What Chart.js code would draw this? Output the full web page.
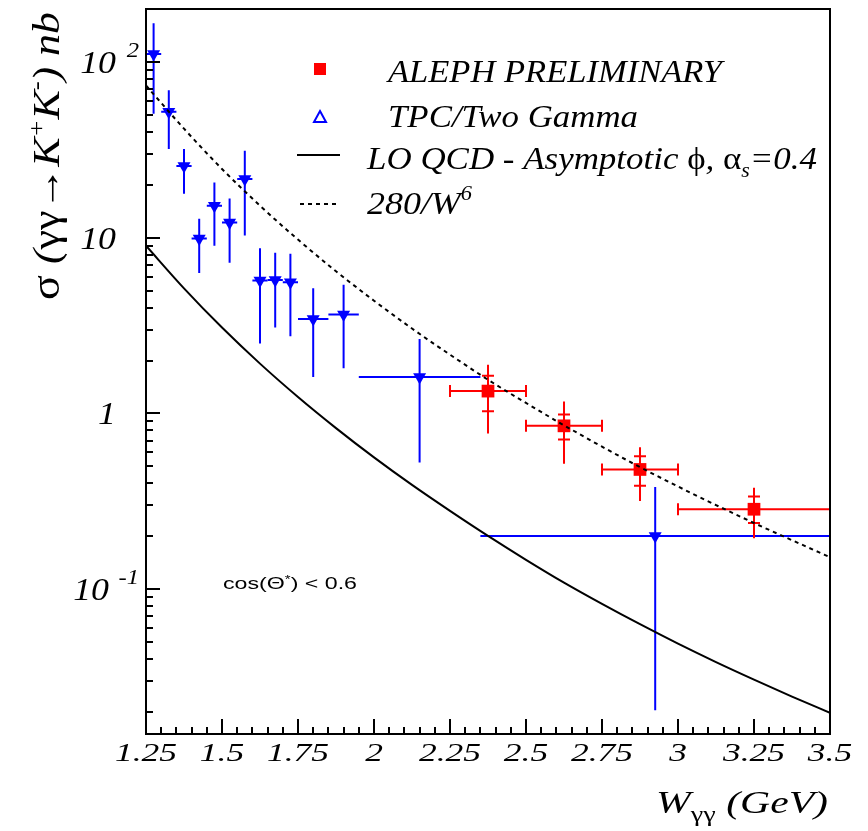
<!DOCTYPE html>
<html>
<head>
<meta charset="utf-8">
<script src="https://cdn.jsdelivr.net/npm/chart.js@4.4.0/dist/chart.umd.min.js"></script>
<style>
  html, body { margin: 0; padding: 0; background: #fff; }
  #wrap { width: 868px; height: 831px; position: relative; }
</style>
</head>
<body>
<div id="wrap"><canvas id="chart"></canvas></div>
<script>
// ALEPH preliminary points (W in GeV, sigma in nb)
const alephW = [2.375, 2.625, 2.875, 3.25];
const alephSigma = [1.34, 0.85, 0.48, 0.285];
const alephWLo = [2.25, 2.5, 2.75, 3.0];
const alephWHi = [2.5, 2.75, 3.0, 3.5];
const alephStatLo = [1.03, 0.71, 0.388, 0.238];
const alephStatHi = [1.64, 0.987, 0.571, 0.337];
const alephTotLo = [0.77, 0.518, 0.318, 0.195];
const alephTotHi = [1.89, 1.17, 0.643, 0.378];

// TPC/Two Gamma points
const tpcW = [1.275, 1.325, 1.375, 1.425, 1.475, 1.525, 1.575, 1.625, 1.675, 1.725, 1.80, 1.90, 2.15, 2.925];
const tpcSigma = [111, 52, 25.6, 9.9, 15.2, 12.2, 21.6, 5.7, 5.75, 5.57, 3.45, 3.65, 1.61, 0.201];
const tpcErrLo = [50.7, 32, 17.8, 6.3, 9.0, 7.2, 10.3, 2.5, 3.08, 2.75, 1.61, 1.81, 0.525, 0.0205];
const tpcErrHi = [166, 69, 32, 12.8, 20.6, 16.7, 31.2, 8.7, 8.2, 8.1, 5.15, 5.39, 2.65, 0.382];
const tpcWLo = [1.25, 1.30, 1.35, 1.40, 1.45, 1.50, 1.55, 1.60, 1.65, 1.70, 1.75, 1.85, 1.95, 2.35];
const tpcWHi = [1.30, 1.35, 1.40, 1.45, 1.50, 1.55, 1.60, 1.65, 1.70, 1.75, 1.85, 1.95, 2.35, 3.50];

// LO QCD - asymptotic phi curve
const qcdW = [1.25, 1.375, 1.5, 1.625, 1.75, 1.875, 2.0, 2.125, 2.25, 2.375, 2.5, 2.625, 2.75, 2.875, 3.0, 3.125, 3.25, 3.375, 3.5];
const qcdSigma = [9.0, 5.15, 3.08, 1.92, 1.24, 0.825, 0.562, 0.392, 0.279, 0.201, 0.147, 0.109, 0.0825, 0.0632, 0.049, 0.0385, 0.0306, 0.0245, 0.0198];

// 280/W^6 curve
const curveW = [1.25, 1.375, 1.5, 1.625, 1.75, 1.875, 2.0, 2.125, 2.25, 2.375, 2.5, 2.625, 2.75, 2.875, 3.0, 3.125, 3.25, 3.375, 3.5];
const curveSigma = [73.4, 41.7, 24.6, 15.2, 9.75, 6.44, 4.38, 3.04, 2.16, 1.555, 1.147, 0.856, 0.647, 0.495, 0.384, 0.301, 0.238, 0.19, 0.152];

// axis ticks
const xTicks = [1.25, 1.5, 1.75, 2, 2.25, 2.5, 2.75, 3, 3.25, 3.5];
const xTickLabels = ['1.25', '1.5', '1.75', '2', '2.25', '2.5', '2.75', '3', '3.25', '3.5'];
const yTicks = [100, 10, 1, 0.1];
const yTickBase = ['10', '10', '1', '10'];
const yTickExp = ['2', '', '', '-1'];

const SERIF = '"Liberation Serif", "DejaVu Serif", serif';
const SANS = '"Liberation Sans", Arial, sans-serif';

// draw a line of text made of parts; opt.width stretches it to a given width
function richText(ctx, parts, x, y, opt) {
  opt = opt || {};
  const fonts = parts.map(p => (p.style || 'italic') + ' ' + p.size + 'px ' + (p.family || SERIF));
  const widths = parts.map((p, i) => { ctx.font = fonts[i]; return ctx.measureText(p.t).width; });
  const total = widths.reduce((a, b) => a + b, 0);
  const sx = opt.width ? opt.width / total : (opt.sx || 1);
  let cx = x;
  if (opt.align === 'right') cx = x - total * sx;
  else if (opt.align === 'center') cx = x - total * sx / 2;
  ctx.fillStyle = opt.color || '#000';
  ctx.textBaseline = 'alphabetic';
  ctx.textAlign = 'left';
  parts.forEach((p, i) => {
    ctx.save();
    ctx.font = fonts[i];
    ctx.translate(cx, y + (p.dy || 0));
    ctx.scale(sx, 1);
    ctx.fillText(p.t, 0, 0);
    ctx.restore();
    cx += widths[i] * sx;
  });
}

const decor = {
  id: 'decor',
  beforeDatasetsDraw(chart) {
    const ctx = chart.ctx;
    const xs = chart.scales.x, ys = chart.scales.y;
    ctx.save();
    ctx.lineWidth = 2;
    // TPC error bars
    ctx.strokeStyle = '#0000ff';
    tpcW.forEach((w, i) => {
      const px = xs.getPixelForValue(w), py = ys.getPixelForValue(tpcSigma[i]);
      ctx.beginPath();
      ctx.moveTo(px, ys.getPixelForValue(tpcErrLo[i]));
      ctx.lineTo(px, ys.getPixelForValue(tpcErrHi[i]));
      ctx.moveTo(xs.getPixelForValue(tpcWLo[i]), py);
      ctx.lineTo(xs.getPixelForValue(tpcWHi[i]), py);
      ctx.stroke();
    });
    // ALEPH error bars
    ctx.strokeStyle = '#ff0000';
    alephW.forEach((w, i) => {
      const px = xs.getPixelForValue(w), py = ys.getPixelForValue(alephSigma[i]);
      const x1 = xs.getPixelForValue(alephWLo[i]), x2 = xs.getPixelForValue(alephWHi[i]);
      const s1 = ys.getPixelForValue(alephStatLo[i]), s2 = ys.getPixelForValue(alephStatHi[i]);
      ctx.beginPath();
      ctx.moveTo(x1, py); ctx.lineTo(x2, py);
      ctx.moveTo(x1, py - 6); ctx.lineTo(x1, py + 6);
      ctx.moveTo(x2, py - 6); ctx.lineTo(x2, py + 6);
      ctx.moveTo(px, ys.getPixelForValue(alephTotLo[i]));
      ctx.lineTo(px, ys.getPixelForValue(alephTotHi[i]));
      ctx.moveTo(px - 6, s1); ctx.lineTo(px + 6, s1);
      ctx.moveTo(px - 6, s2); ctx.lineTo(px + 6, s2);
      ctx.stroke();
    });
    ctx.restore();
  },
  afterDraw(chart) {
    const ctx = chart.ctx;
    const xs = chart.scales.x, ys = chart.scales.y;
    const a = chart.chartArea;
    ctx.save();
    // frame
    ctx.strokeStyle = '#000';
    ctx.lineWidth = 2;
    ctx.strokeRect(a.left, a.top, a.right - a.left, a.bottom - a.top);
    // x ticks (inside)
    ctx.beginPath();
    for (let k = 0; k <= 45; k++) {
      const v = 1.25 + k * 0.05;
      const px = Math.round(xs.getPixelForValue(v));
      const len = k % 5 === 0 ? 15 : 7;
      ctx.moveTo(px, a.bottom); ctx.lineTo(px, a.bottom - len);
    }
    // y ticks (inside)
    for (let d = -2; d <= 2; d++) {
      for (let m = 1; m <= 9; m++) {
        const v = m * Math.pow(10, d);
        if (v < ys.min || v > ys.max) continue;
        const py = Math.round(ys.getPixelForValue(v));
        const len = m === 1 ? 14 : 7;
        ctx.moveTo(a.left, py); ctx.lineTo(a.left + len, py);
      }
    }
    ctx.stroke();

    // x tick labels
    xTicks.forEach((v, i) => {
      richText(ctx, [{ t: xTickLabels[i], size: 25 }], xs.getPixelForValue(v), 761, { align: 'center', sx: 1.42 });
    });
    // y tick labels
    yTicks.forEach((v, i) => {
      const py = ys.getPixelForValue(v);
      if (yTickExp[i]) {
        const expW = yTickExp[i].length > 1 ? 20 : 13;
        richText(ctx, [{ t: yTickBase[i], size: 32 }], 139 - expW - 10, py + 11, { align: 'right', sx: 1.12 });
        richText(ctx, [{ t: yTickExp[i], size: 22 }], 139, py - 5, { align: 'right', sx: 1.12 });
      } else {
        richText(ctx, [{ t: yTickBase[i], size: 32 }], 116, py + 11, { align: 'right', sx: 1.12 });
      }
    });

    // y title (rotated)
    ctx.save();
    ctx.translate(59, 156);
    ctx.rotate(-Math.PI / 2);
    richText(ctx, [
      { t: 'σ', size: 40, style: 'normal' },
      { t: ' (', size: 38 },
      { t: 'γγ→', size: 38, style: 'normal' },
      { t: 'K', size: 38 },
      { t: '+', size: 23, dy: -15 },
      { t: 'K', size: 38 },
      { t: '-', size: 23, dy: -15 },
      { t: ') nb', size: 38 }
    ], 0, 0, { align: 'center', width: 288 });
    ctx.restore();

    // x title
    richText(ctx, [
      { t: 'W', size: 31 },
      { t: 'γγ', size: 21, style: 'normal', dy: 8 },
      { t: ' (GeV)', size: 31 }
    ], 828, 813, { align: 'right', width: 172 });

    // legend
    ctx.fillStyle = '#ff0000';
    ctx.fillRect(314, 63, 12, 12);
    ctx.strokeStyle = '#0000ff';
    ctx.lineWidth = 2;
    ctx.beginPath();
    ctx.moveTo(320, 111); ctx.lineTo(326, 122); ctx.lineTo(314, 122); ctx.closePath();
    ctx.stroke();
    ctx.strokeStyle = '#000';
    ctx.beginPath();
    ctx.moveTo(297, 155); ctx.lineTo(340, 155);
    ctx.stroke();
    ctx.setLineDash([4, 4]);
    ctx.beginPath();
    ctx.moveTo(300, 204); ctx.lineTo(340, 204);
    ctx.stroke();
    ctx.setLineDash([]);

    richText(ctx, [{ t: 'ALEPH PRELIMINARY', size: 32 }], 388, 82, { width: 334 });
    richText(ctx, [{ t: 'TPC/Two Gamma', size: 32 }], 388, 127, { width: 250 });
    richText(ctx, [
      { t: 'LO QCD - Asymptotic ', size: 32 },
      { t: 'ϕ', size: 32, style: 'normal' },
      { t: ', ', size: 32 },
      { t: 'α', size: 32, style: 'normal' },
      { t: 's', size: 20, dy: 8 },
      { t: '=0.4', size: 32 }
    ], 367, 169, { width: 450 });
    richText(ctx, [
      { t: '280/W', size: 32 },
      { t: '6', size: 20, dy: -14 }
    ], 367, 214, { width: 105 });

    // selection note
    richText(ctx, [
      { t: 'cos(Θ', size: 17, style: 'normal', family: SANS },
      { t: '*', size: 11, style: 'normal', family: SANS, dy: -6 },
      { t: ') < 0.6', size: 17, style: 'normal', family: SANS }
    ], 223, 589, { width: 134 });
    ctx.restore();
  }
};

new Chart(document.getElementById('chart'), {
  type: 'line',
  data: {
    datasets: [
      {
        label: 'LO QCD - Asymptotic phi, alpha_s=0.4',
        data: qcdW.map((w, i) => ({ x: w, y: qcdSigma[i] })),
        borderColor: '#000',
        borderWidth: 2,
        pointRadius: 0,
        cubicInterpolationMode: 'monotone'
      },
      {
        label: '280/W^6',
        data: curveW.map((w, i) => ({ x: w, y: curveSigma[i] })),
        borderColor: '#000',
        borderWidth: 2,
        borderDash: [4, 4],
        pointRadius: 0,
        cubicInterpolationMode: 'monotone'
      },
      {
        label: 'ALEPH PRELIMINARY',
        data: alephW.map((w, i) => ({ x: w, y: alephSigma[i] })),
        showLine: false,
        pointStyle: 'rect',
        pointRadius: 9,
        pointBackgroundColor: '#ff0000',
        pointBorderColor: '#ff0000',
        pointBorderWidth: 0
      },
      {
        label: 'TPC/Two Gamma',
        data: tpcW.map((w, i) => ({ x: w, y: tpcSigma[i] })),
        showLine: false,
        pointStyle: 'triangle',
        rotation: 180,
        pointRadius: 7.5,
        pointBackgroundColor: '#0000ff',
        pointBorderColor: '#0000ff',
        pointBorderWidth: 0
      }
    ]
  },
  options: {
    responsive: true,
    maintainAspectRatio: false,
    animation: false,
    layout: { padding: { left: 146, right: 38, top: 8, bottom: 97 } },
    plugins: { legend: { display: false }, tooltip: { enabled: false } },
    scales: {
      x: { type: 'linear', min: 1.25, max: 3.5, display: false },
      y: { type: 'logarithmic', min: 0.015, max: 200, display: false }
    }
  },
  plugins: [decor]
});
</script>
</body>
</html>
